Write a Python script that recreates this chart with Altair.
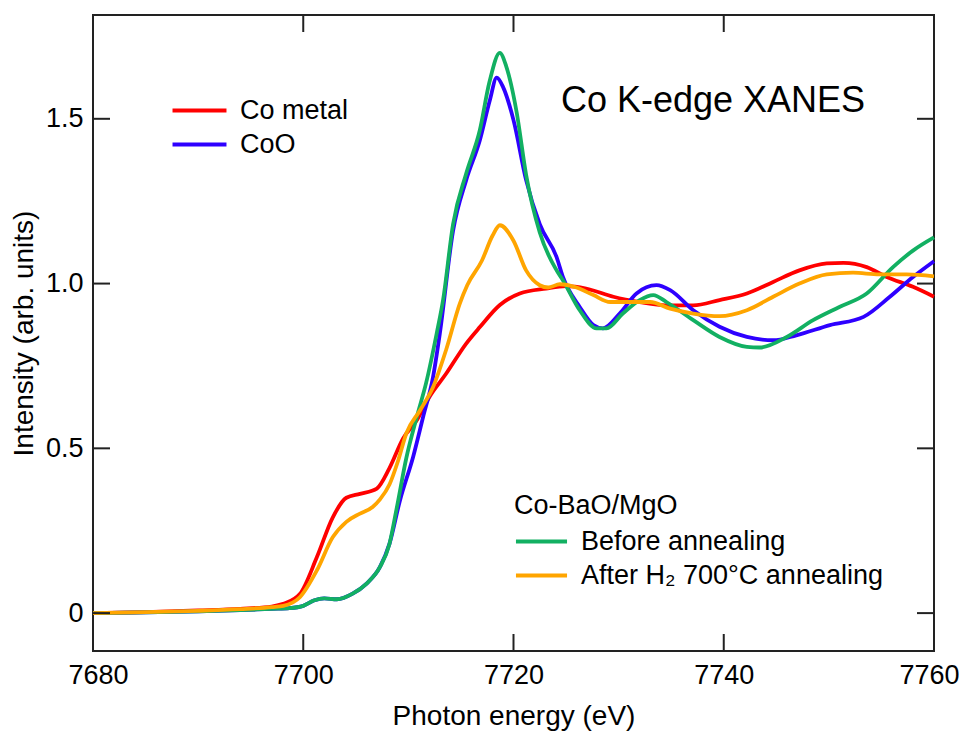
import altair as alt
import pandas as pd

# ---------------- data ----------------
co_metal_x = [7680, 7685, 7690, 7694, 7697, 7698.1, 7699.7, 7701.3, 7702.8, 7704.1, 7705.4, 7707.0,
              7708.2, 7709.5, 7710.8, 7712.0, 7713.6, 7715.5, 7716.8, 7718.7, 7720.6, 7723.1, 7725.0,
              7726.9, 7729.5, 7732.0, 7734.5, 7737.1, 7739.6, 7742.2, 7744.7, 7747.2, 7749.8, 7751.4,
              7753.6, 7755.5, 7758.0, 7760]
co_metal_y = [0.0, 0.003, 0.008, 0.013, 0.02, 0.028, 0.059, 0.17, 0.29, 0.35, 0.362, 0.378,
              0.44, 0.53, 0.585, 0.656, 0.727, 0.818, 0.868, 0.935, 0.97, 0.985, 0.992,
              0.985, 0.96, 0.944, 0.934, 0.934, 0.95, 0.97, 1.005, 1.04, 1.061, 1.063,
              1.05, 1.02, 0.99, 0.96]

coo_x = [7680, 7685, 7690, 7694, 7697, 7698.7, 7700.0, 7701.0, 7702.0, 7703.2, 7704.7, 7706.0,
         7707.3, 7708.2, 7709.2, 7710.45, 7711.4, 7712.35, 7713.0, 7714.25, 7715.5, 7716.8, 7717.75,
         7718.4, 7719.0, 7720.0, 7721.2, 7722.5, 7724.1, 7724.7, 7726.3, 7727.6, 7728.5, 7730.1,
         7731.7, 7733.6, 7734.9, 7737.1, 7739.6, 7742.2, 7744.7, 7746.9, 7750.1, 7753.3, 7755.8,
         7758.0, 7760]
coo_y = [0.0, 0.002, 0.005, 0.009, 0.013, 0.015, 0.022, 0.038, 0.045, 0.042, 0.059, 0.089,
         0.14, 0.21, 0.342, 0.474, 0.595, 0.717, 0.85, 1.16, 1.314, 1.435, 1.556,
         1.625, 1.597, 1.496, 1.314, 1.18, 1.08, 1.02, 0.929, 0.874, 0.864, 0.909,
         0.97, 0.995, 0.98, 0.919, 0.869, 0.838, 0.828, 0.843, 0.874, 0.899, 0.96,
         1.02, 1.068]

before_x = [7680, 7685, 7690, 7694, 7697, 7698.7, 7700.0, 7701.0, 7702.0, 7703.2, 7704.7, 7706.0,
            7707.3, 7708.2, 7708.9, 7709.8, 7710.8, 7711.7, 7712.7, 7713.3, 7714.25, 7715.5,
            7716.8, 7717.7, 7718.7, 7719.3, 7720.3, 7721.2, 7722.5, 7724.1, 7724.7, 7726.3,
            7727.9, 7728.85, 7730.4, 7732.0, 7733.3, 7734.55, 7737.1, 7739.6, 7742.2, 7743.4,
            7746.0, 7748.5, 7751.0, 7753.6, 7756.1, 7758.0, 7760]
before_y = [0.0, 0.002, 0.005, 0.009, 0.013, 0.015, 0.022, 0.038, 0.045, 0.042, 0.059, 0.089,
            0.14, 0.21, 0.32, 0.47, 0.595, 0.70, 0.85, 0.95, 1.18, 1.334,
            1.466, 1.61, 1.70, 1.66, 1.52, 1.33, 1.155, 1.04, 1.01, 0.919,
            0.864, 0.864, 0.909, 0.95, 0.965, 0.944, 0.889, 0.838, 0.808, 0.806,
            0.838, 0.889, 0.929, 0.97, 1.05, 1.10, 1.14]

after_x = [7680, 7685, 7690, 7694, 7697, 7698.1, 7699.7, 7701.3, 7702.8, 7704.1, 7705.4, 7706.6,
           7707.3, 7708.2, 7709.0, 7709.8, 7711.1, 7712.35, 7713.6, 7714.9, 7715.6, 7717.0,
           7718.0, 7718.7, 7720.0, 7721.2, 7722.5, 7723.3, 7724.4, 7726.0, 7727.6, 7729.2,
           7731.1, 7733.0, 7734.9, 7737.1, 7739.6, 7742.2, 7744.7, 7747.2, 7749.8, 7752.3,
           7754.8, 7757.4, 7760]
after_y = [0.0, 0.003, 0.007, 0.012, 0.018, 0.022, 0.049, 0.13, 0.23, 0.277, 0.302, 0.322,
           0.345, 0.39, 0.46, 0.545, 0.615, 0.686, 0.80, 0.94, 0.995, 1.07,
           1.145, 1.177, 1.13, 1.04, 0.995, 0.988, 0.998, 0.988, 0.965, 0.944,
           0.944, 0.944, 0.924, 0.909, 0.901, 0.919, 0.96, 1.0, 1.028, 1.033,
           1.028, 1.028, 1.022]

ref_labels = ["Co metal", "CoO"]
ref_colors = ["#FF0000", "#2E00FF"]
sample_labels = ["Before annealing", "After H\u2082 700\u00b0C annealing"]
sample_colors = ["#12B062", "#FFA500"]
sample_group = "Co-BaO/MgO"
plot_title = "Co K-edge XANES"

x_ticks = [7680, 7700, 7720, 7740, 7760]
y_ticks = [0, 0.5, 1.0, 1.5]
x_inner_ticks = [7700, 7720, 7740]

# ---------------- tables ----------------
def frame(xs, ys, name, order):
    return pd.DataFrame({"energy": xs, "intensity": ys, "series": name, "order": order})

ref_df = pd.concat([frame(co_metal_x, co_metal_y, ref_labels[0], 0),
                    frame(coo_x, coo_y, ref_labels[1], 1)])
sample_df = pd.concat([frame(before_x, before_y, sample_labels[0], 2),
                       frame(after_x, after_y, sample_labels[1], 3)])

W, H = 841, 636
FONT = "Liberation Sans"
TICK = 17
INK = "#222222"
LW = 3.8
LINE_GLYPH = "M-4,0L4,0"   # wide legend line, scaled by sqrt(size)/2

xscale = alt.Scale(domain=[7680, 7760], nice=False, zero=False)
yscale = alt.Scale(domain=[-0.115, 1.815], nice=False, zero=False)

xaxis = alt.Axis(values=x_ticks, format="d", ticks=False, tickSize=0, domain=False, grid=False,
                 labelFontSize=27, labelFont=FONT, labelColor="black", labelPadding=11,
                 title="Photon energy (eV)", titleFont=FONT, titleFontSize=28,
                 titleFontWeight="normal", titleColor="black", titlePadding=14,
                 labelFlush=True, labelFlushOffset=25)
yaxis = alt.Axis(values=y_ticks, labelExpr="datum.value == 0 ? '0' : format(datum.value, '.1f')",
                 ticks=False, tickSize=0, domain=False, grid=False,
                 labelFontSize=27, labelFont=FONT, labelColor="black", labelPadding=10,
                 title="Intensity (arb. units)", titleFont=FONT, titleFontSize=28,
                 titleFontWeight="normal", titleColor="black", titlePadding=7,
                 labelFlush=False)

x_enc = alt.X("energy:Q", scale=xscale, axis=xaxis)
y_enc = alt.Y("intensity:Q", scale=yscale, axis=yaxis)

ref_lines = alt.Chart(ref_df).mark_line(strokeWidth=LW, interpolate="monotone").encode(
    x=x_enc, y=y_enc,
    color=alt.Color("series:N",
                    scale=alt.Scale(domain=ref_labels, range=ref_colors),
                    legend=alt.Legend(title=None, orient="none", legendX=93, legendY=82,
                                      symbolType=LINE_GLYPH, symbolSize=182, symbolStrokeWidth=4,
                                      labelFont=FONT, labelFontSize=27, labelColor="black",
                                      labelLimit=500, labelOffset=27, rowPadding=6, padding=0)),
    detail="series:N")

sample_lines = alt.Chart(sample_df).mark_line(strokeWidth=LW, interpolate="monotone").encode(
    x=x_enc, y=y_enc,
    color=alt.Color("series:N",
                    scale=alt.Scale(domain=sample_labels, range=sample_colors),
                    legend=alt.Legend(title=sample_group, orient="none", legendX=421, legendY=478,
                                      titleFont=FONT, titleFontSize=27, titleFontWeight="normal",
                                      titleColor="black", titlePadding=8, titleAnchor="start",
                                      titleLimit=500, symbolOffset=14,
                                      symbolType=LINE_GLYPH, symbolSize=163, symbolStrokeWidth=4,
                                      labelFont=FONT, labelFontSize=27, labelColor="black",
                                      labelLimit=500, labelOffset=26, rowPadding=6, padding=0)),
    detail="series:N")

# inward ticks on all four sides
xt = pd.DataFrame({"energy": x_inner_ticks})
yt = pd.DataFrame({"intensity": y_ticks})
tick_style = dict(color=INK, strokeWidth=2)
top_ticks = alt.Chart(xt).mark_rule(**tick_style).encode(
    x=x_enc, y=alt.value(0), y2=alt.value(TICK))
bot_ticks = alt.Chart(xt).mark_rule(**tick_style).encode(
    x=x_enc, y=alt.value(H - TICK), y2=alt.value(H))
left_ticks = alt.Chart(yt).mark_rule(**tick_style).encode(
    y=y_enc, x=alt.value(0), x2=alt.value(TICK))
right_ticks = alt.Chart(yt).mark_rule(**tick_style).encode(
    y=y_enc, x=alt.value(W - TICK), x2=alt.value(W))

title_text = alt.Chart(pd.DataFrame({"t": [plot_title]})).mark_text(
    font=FONT, fontSize=36, color="black", align="center", baseline="alphabetic").encode(
    text="t:N", x=alt.value(620), y=alt.value(97))

chart = alt.layer(
    ref_lines, sample_lines, top_ticks, bot_ticks, left_ticks, right_ticks, title_text
).resolve_scale(color="independent").properties(
    width=W, height=H,
    autosize=alt.AutoSizeParams(type="none"),
    padding={"left": 85, "top": 7, "right": 25, "bottom": 85},
).configure(background="white",
            view=alt.ViewConfig(stroke=INK, strokeWidth=2))

chart.save("out.html", embed_options={"renderer": "svg", "actions": False})
